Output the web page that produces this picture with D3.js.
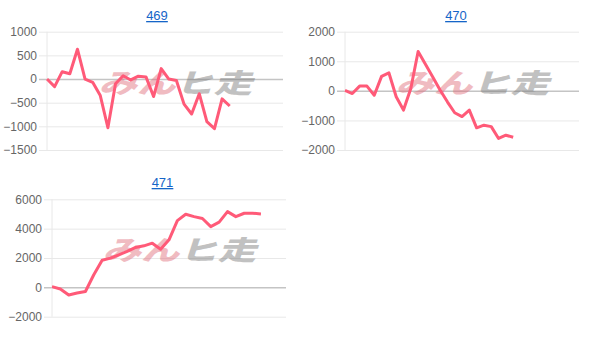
<!DOCTYPE html>
<html>
<head>
<meta charset="utf-8">
<script src="https://cdn.jsdelivr.net/npm/d3@7"></script>
<style>
  body { margin: 0; background: #fff; }
  svg { display: block; }
</style>
</head>
<body>
<script>
// data
const titles = ['469', '470', '471'];
const values469 = [0, -160, 155, 110, 630, 0, -70, -350, -1030, -100, 70, -20, 60, 45, -370, 220, 0, -30, -530, -740, -310, -900, -1050, -420, -570];
const values470 = [20, -90, 160, 160, -150, 490, 610, -200, -650, 80, 1330, 900, 470, 30, -370, -740, -870, -650, -1250, -1160, -1210, -1610, -1500, -1570];
const values471 = [50, -110, -520, -390, -280, 860, 1850, 1990, 2220, 2450, 2720, 2830, 3010, 2600, 3240, 4550, 4980, 4820, 4690, 4140, 4440, 5160, 4820, 5050, 5050, 5000];
const ticks469 = [-1500, -1000, -500, 0, 500, 1000];
const ticks470 = [-2000, -1000, 0, 1000, 2000];
const ticks471 = [-2000, 0, 2000, 4000, 6000];

let width = 608;
let height = 344;
let svg = d3.select('body').append('svg')
   .attr('width', width)
   .attr('height', height);

// one panel per title
let panels = [
   { title: titles[0], values: values469, ticks: ticks469, yDomain: [-1500, 1000], slots: 31,
     x0: 47, x1: 283, y0: 31.7, y1: 150, titleX: 157, titleY: 20 },
   { title: titles[1], values: values470, ticks: ticks470, yDomain: [-2000, 2000], slots: 32,
     x0: 345, x1: 579, y0: 31.7, y1: 150, titleX: 456, titleY: 20 },
   { title: titles[2], values: values471, ticks: ticks471, yDomain: [-2000, 6000], slots: 28,
     x0: 52, x1: 286, y0: 199.3, y1: 316.7, titleX: 162.5, titleY: 187 }
];

let drawPanel = (p) => {
   let xScale = d3.scaleLinear().domain([0, p.slots]).range([p.x0, p.x1]);
   let yScale = d3.scaleLinear().domain(p.yDomain).range([p.y1, p.y0]);
   let tickLen = 8;

   // title (link style)
   svg.append('text')
      .attr('x', p.titleX)
      .attr('y', p.titleY)
      .attr('text-anchor', 'middle')
      .style('font-family', '"Liberation Sans", Arial, sans-serif')
      .style('font-size', '13px')
      .style('fill', '#1565c8')
      .style('text-decoration', 'underline')
      .text(p.title);

   // y axis with grid lines (tick marks poke out left of the axis)
   let yAxis = d3.axisLeft(yScale)
      .tickValues(p.ticks)
      .tickSize(-(p.x1 - p.x0) - tickLen)
      .tickPadding(2)
      .tickFormat(d3.format('d'));
   let g = svg.append('g')
      .attr('transform', 'translate(' + (p.x0 - tickLen) + ',0)')
      .call(yAxis);
   g.select('.domain').remove();
   g.selectAll('.tick line')
      .attr('stroke', (d) => d === 0 ? '#c4c4c4' : '#e8e8e8')
      .attr('stroke-width', (d) => d === 0 ? 1.5 : 1);
   g.selectAll('.tick text')
      .attr('x', -2)
      .style('font-family', '"Liberation Sans", Arial, sans-serif')
      .style('font-size', '12px')
      .style('fill', '#666');

   // left axis line
   svg.append('line')
      .attr('x1', xScale(0)).attr('x2', xScale(0))
      .attr('y1', yScale(p.yDomain[0])).attr('y2', yScale(p.yDomain[1]))
      .attr('stroke', '#e8e8e8');

   // watermark
   let cx = (p.x0 + p.x1) / 2 + 9;
   let cy = (p.y0 + p.y1) / 2 + 2;
   let wm = svg.append('g')
      .attr('transform', 'translate(' + cx + ',' + cy + ') skewX(-18) scale(1.42,1)')
      .style('opacity', 0.45);
   wm.append('text')
      .attr('x', 1).attr('y', 0)
      .attr('text-anchor', 'end')
      .style('font-family', '"Noto Sans CJK JP", sans-serif')
      .style('font-weight', '900')
      .style('font-size', '27px')
      .style('fill', '#e06a78')
      .text('みん');
   wm.append('text')
      .attr('x', 1).attr('y', 0)
      .attr('text-anchor', 'start')
      .style('font-family', '"Noto Sans CJK JP", sans-serif')
      .style('font-weight', '900')
      .style('font-size', '27px')
      .style('fill', '#777')
      .text('ヒ走');

   // series line
   let line = d3.line()
      .x((d, i) => xScale(i))
      .y((d) => yScale(d));
   svg.append('path')
      .datum(p.values)
      .attr('d', line)
      .attr('fill', 'none')
      .attr('stroke', '#ff5a78')
      .attr('stroke-width', 3)
      .attr('stroke-linejoin', 'round');
}

panels.forEach(drawPanel);
</script>
</body>
</html>
